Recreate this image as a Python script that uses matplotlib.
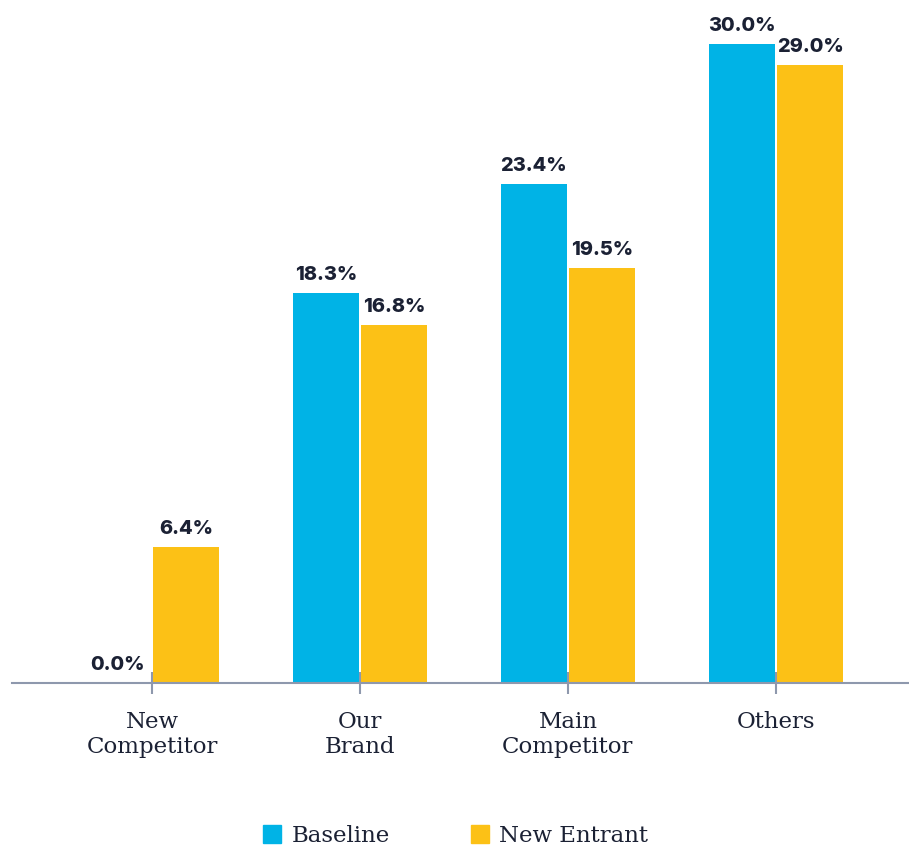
import matplotlib.pyplot as plt
from matplotlib.lines import Line2D
import numpy as np

categories = ["New\nCompetitor", "Our\nBrand", "Main\nCompetitor", "Others"]
baseline = [0.0, 18.3, 23.4, 30.0]
new_entrant = [6.4, 16.8, 19.5, 29.0]
series_names = ["Baseline", "New Entrant"]

blue = "#00B3E6"
yellow = "#FCC116"
text_dark = "#1B2134"
axis_grey = "#8E98AD"

fig = plt.figure(figsize=(9.09, 8.5), dpi=100)
ax = fig.add_axes([12 / 909, 167 / 850, 897 / 909, 683 / 850])

x = np.arange(len(categories))
w = 0.316
gap = 0.006
b1 = ax.bar(x - w / 2 - gap, baseline, w, color=blue, zorder=2)
b2 = ax.bar(x + w / 2 + gap, new_entrant, w, color=yellow, zorder=2)

for bars, vals in [(b1, baseline), (b2, new_entrant)]:
    for rect, v in zip(bars, vals):
        ax.annotate(f"{v:.1f}%", (rect.get_x() + rect.get_width() / 2, v),
                    xytext=(0, 6.5), textcoords="offset points",
                    ha="center", va="bottom", fontsize=14.3,
                    fontweight="heavy", family="Inter", color=text_dark)

ax.set_xlim(-0.673, 3.64)
ax.set_ylim(0, 32.06)
ax.set_yticks([])
for s in ["top", "right", "left"]:
    ax.spines[s].set_visible(False)
ax.spines["bottom"].set_color(axis_grey)
ax.spines["bottom"].set_linewidth(1.5)
ax.spines["bottom"].set_zorder(3)

ax.set_xticks(x)
ax.set_xticklabels(categories, family="DejaVu Serif", fontsize=16.5,
                   color=text_dark, linespacing=1.2)
ax.tick_params(axis="x", direction="inout", length=16, width=1.5,
               color=axis_grey, pad=12)

handles = [Line2D([], [], marker="s", linestyle="none", markersize=13,
                  color=c) for c in (blue, yellow)]
fig.legend(handles, series_names, loc="center", bbox_to_anchor=(0.5, 14 / 850),
           ncol=2, frameon=False, handletextpad=0.35,
           columnspacing=3.4, handlelength=1.0,
           prop={"family": "DejaVu Serif", "size": 16.5})
for t in fig.legends[0].get_texts():
    t.set_color(text_dark)

fig.savefig("out.png", dpi=100)
